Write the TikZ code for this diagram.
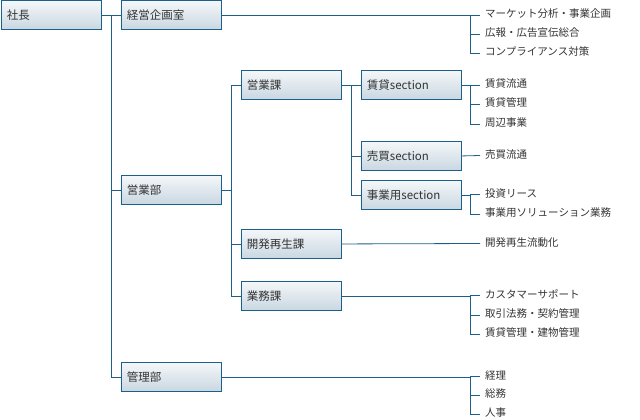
\documentclass[tikz,border=0pt]{standalone}
\usepackage{fontspec}
\setmainfont{Noto Sans CJK JP}
\usetikzlibrary{positioning}
\definecolor{lineblue}{HTML}{1C5F88}
\definecolor{boxtop}{HTML}{F4F7F9}
\definecolor{boxbot}{HTML}{C9D7E1}
\definecolor{txtgray}{HTML}{333333}
\tikzset{
  unit/.style={draw=lineblue, line width=0.9pt, top color=boxtop, bottom color=boxbot,
    minimum width=100pt, minimum height=29pt, anchor=north west, inner sep=0pt,
    text width=88pt, align=left, font=\fontsize{11.5}{13}\selectfont, text=txtgray},
  leaf/.style={anchor=west, inner sep=0pt, text height=7.5pt, text depth=2.5pt,
    font=\fontsize{10.5}{12}\selectfont, text=txtgray},
  link/.style={draw=lineblue, line width=0.8pt}
}
\begin{document}
\begin{tikzpicture}[x=1pt,y=-1pt]
\useasboundingbox (0,0) rectangle (640,420);
% boxes
\node[unit] (shacho) at (0.5,0.5) {社長};
\node[unit] (keiei) at (120.5,0.5) {経営企画室};
\node[unit] (eigyobu) at (120.5,175) {営業部};
\node[unit] (kanribu) at (120.5,362) {管理部};
\node[unit] (eigyoka) at (240.5,70) {営業課};
\node[unit] (kaihatsu) at (240.5,229) {開発再生課};
\node[unit] (gyomu) at (240.5,281) {業務課};
\node[unit] (chintai) at (360.5,70) {賃貸section};
\node[unit] (baibai) at (360.5,141) {売買section};
\node[unit] (jigyo) at (360.5,180) {事業用section};
% leaves
\node[leaf] (l1) at (485,15) {マーケット分析・事業企画};
\node[leaf] (l2) at (485,34) {広報・広告宣伝総合};
\node[leaf] (l3) at (485,53) {コンプライアンス対策};
\node[leaf] (l4) at (485,85) {賃貸流通};
\node[leaf] (l5) at (485,104) {賃貸管理};
\node[leaf] (l6) at (485,124) {周辺事業};
\node[leaf] (l7) at (485,155.5) {売買流通};
\node[leaf] (l8) at (485,194.5) {投資リース};
\node[leaf] (l9) at (485,214) {事業用ソリューション業務};
\node[leaf] (l10) at (485,243.5) {開発再生流動化};
\node[leaf] (l11) at (485,295.5) {カスタマーサポート};
\node[leaf] (l12) at (485,315) {取引法務・契約管理};
\node[leaf] (l13) at (485,334) {賃貸管理・建物管理};
\node[leaf] (l14) at (485,376.5) {経理};
\node[leaf] (l15) at (485,395) {総務};
\node[leaf] (l16) at (485,414) {人事};
% tree
\draw[link] (shacho.east) -- (keiei.west);
\draw[link] (shacho.east) -- ++(10,0) |- (eigyobu.west);
\draw[link] (shacho.east) -- ++(10,0) |- (kanribu.west);
\draw[link] (eigyobu.east) -- ++(10,0) |- (eigyoka.west);
\draw[link] (eigyobu.east) -- ++(10,0) |- (kaihatsu.west);
\draw[link] (eigyobu.east) -- ++(10,0) |- (gyomu.west);
\draw[link] (eigyoka.east) -- (chintai.west);
\draw[link] (eigyoka.east) -- ++(10,0) |- (baibai.west);
\draw[link] (eigyoka.east) -- ++(10,0) |- (jigyo.west);
\foreach \src/\dst in {keiei/l1,keiei/l2,keiei/l3,chintai/l4,chintai/l5,chintai/l6,
  jigyo/l8,jigyo/l9,gyomu/l11,gyomu/l12,gyomu/l13,kanribu/l14,kanribu/l15,kanribu/l16}
  \draw[link] (\src.east) -- (470,0 |- \src.east) |- ([xshift=-5pt]\dst.west);
\draw[link] (baibai.east) -- ([xshift=-5pt]l7.west);
\draw[link] (kaihatsu.east) -- ([xshift=-5pt]l10.west);
\end{tikzpicture}
\end{document}
